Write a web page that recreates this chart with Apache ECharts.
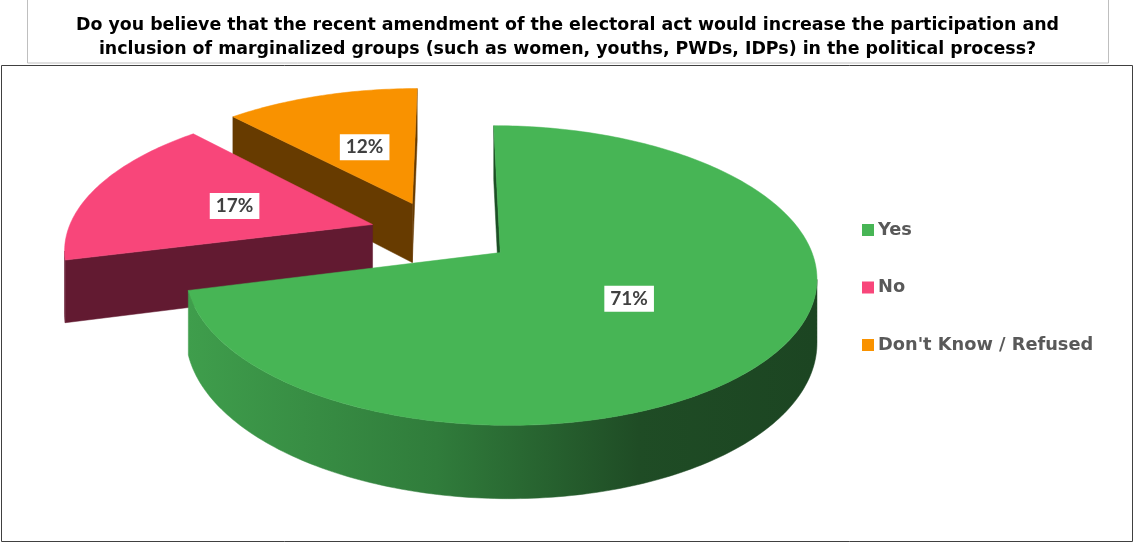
<!DOCTYPE html>
<html><head><meta charset="utf-8">
<script src="https://cdn.jsdelivr.net/npm/echarts@6/dist/echarts.min.js"></script>
<style>html,body{margin:0;padding:0;background:#fff}#c{width:1135px;height:544px}</style>
</head><body><div id="c"></div>
<script>
// ---- data ----
const categories = ['Yes', 'No', "Don't Know / Refused"];
const values = [71, 17, 12];
const titleLines = [
  'Do you believe that the recent amendment of the electoral act would increase the participation and',
  'inclusion of marginalized groups (such as women, youths, PWDs, IDPs) in the political process?'
];

// ---- styles ----
const topColors = ['#47b555', '#f8467a', '#f99200'];
const cutColors = ['#1c5025', '#621a31', '#673b00'];
const wallStops = [
  [[0, '#3f9e4c'], [0.4, '#307c3b'], [0.72, '#1f4c25'], [1, '#1c4522']],
  [[0, '#661b33'], [1, '#5a172d']],
  [[0, '#6e4000'], [1, '#5a3300']]
];
const explode = [0.2, 0.27, 0.265];
const explodeTurn = [0, 0, -8];
const P = { cx: 451, cy: 235, R: 306, Rt: 141, k: 0.15, H: 61 };

function proj(X, Z, bottom) {
  const sc = 1 / (1 - P.k * Z);
  return [P.cx + P.R * X * sc, P.cy + P.Rt * Z * sc + (bottom ? P.H * sc : 0)];
}

function makeRender(i) {
  return function (params, api) {
    const v = api.value(0);
    const total = values.reduce((a, b) => a + b, 0);
    let cum = 0;
    for (let j = 0; j < i; j++) cum += values[j];
    const a0 = cum / total * 360, a1 = (cum + v) / total * 360;
    const mid = (a0 + a1) / 2 * Math.PI / 180;
    const ed = ((a0 + a1) / 2 + explodeTurn[i]) * Math.PI / 180;
    const ox = explode[i] * Math.sin(ed), oz = -explode[i] * Math.cos(ed);
    const rim = (deg, bottom) => {
      const t = deg * Math.PI / 180;
      return proj(ox + Math.sin(t), oz - Math.cos(t), bottom);
    };
    const children = [];
    // radial cut faces
    const cam = [0, 5];
    [[a0, -1], [a1, 1]].forEach(([a, s]) => {
      const t = a * Math.PI / 180;
      const n = [s * Math.cos(t), s * Math.sin(t)];
      if (n[0] * (cam[0] - ox) + n[1] * (cam[1] - oz) > 0) {
        children.push({
          type: 'polygon',
          shape: { points: [proj(ox, oz, false), rim(a, false), rim(a, true), proj(ox, oz, true)] },
          style: { fill: cutColors[i], stroke: cutColors[i], lineWidth: 0.5 }
        });
      }
    });
    // outer wall (visible part)
    let tR = 90, tL = 270, best = -1e9, worst = 1e9;
    for (let d = 0; d <= 180; d += 0.25) { const x = rim(d, false)[0]; if (x > best) { best = x; tR = d; } }
    for (let d = 180; d <= 360; d += 0.25) { const x = rim(d, false)[0]; if (x < worst) { worst = x; tL = d; } }
    const w0 = Math.max(a0, tR), w1 = Math.min(a1, tL);
    if (w1 > w0) {
      const top = [], bot = [];
      for (let d = w0; d < w1; d += 1) { top.push(rim(d, false)); bot.push(rim(d, true)); }
      top.push(rim(w1, false)); bot.push(rim(w1, true));
      const grad = new echarts.graphic.LinearGradient(185, 0, 815, 0,
        wallStops[i].map(s => ({ offset: s[0], color: s[1] })), true);
      children.push({ type: 'polygon', shape: { points: top.concat(bot.reverse()) },
        style: { fill: grad, stroke: grad, lineWidth: 0.5 } });
    }
    // top face
    const pts = [proj(ox, oz, false)];
    for (let d = a0; d < a1; d += 1) pts.push(rim(d, false));
    pts.push(rim(a1, false));
    children.push({ type: 'polygon', shape: { points: pts },
      style: { fill: topColors[i], stroke: topColors[i], lineWidth: 0.5 } });
    // label
    const lp = proj(ox + 0.49 * Math.sin(mid), oz - 0.49 * Math.cos(mid), false);
    children.push({
      type: 'text', x: lp[0], y: lp[1],
      style: {
        text: v + '%', fill: '#404040', font: 'bold 19px Lato',
        align: 'center', verticalAlign: 'middle',
        backgroundColor: '#ffffff', padding: [4, 6, 3, 6]
      }
    });
    return { type: 'group', children };
  };
}

const chart = echarts.init(document.getElementById('c'), null, { renderer: 'canvas' });
chart.setOption({
  animation: false,
  title: {
    text: titleLines.join('\n'),
    left: 'center', top: 8,
    textStyle: { fontFamily: 'DejaVu Sans', fontWeight: 'bold', fontSize: 17.4, lineHeight: 24.5, color: '#000' }
  },
  legend: {
    data: categories,
    orient: 'vertical', left: 862, top: 221, padding: 0,
    itemWidth: 12, itemHeight: 12, itemGap: 39.5,
    icon: 'rect', selectedMode: false,
    textStyle: { fontFamily: 'DejaVu Sans', fontWeight: 'bold', fontSize: 17.8, color: '#595959', padding: [0, 0, 0, -1] }
  },
  graphic: [
    { type: 'rect', z: -10, shape: { x: 27.5, y: -1, width: 1081, height: 64 },
      style: { fill: 'none', stroke: '#bfbfbf', lineWidth: 1 } },
    { type: 'rect', z: -10, shape: { x: 1.5, y: 65.5, width: 1131, height: 476 },
      style: { fill: 'none', stroke: '#404040', lineWidth: 1 } }
  ],
  series: categories.map((name, i) => ({
    type: 'custom', name, coordinateSystem: 'none', z: 3 - i,
    renderItem: makeRender(i), data: [values[i]],
    itemStyle: { color: topColors[i] }, silent: true
  }))
});
</script></body></html>
